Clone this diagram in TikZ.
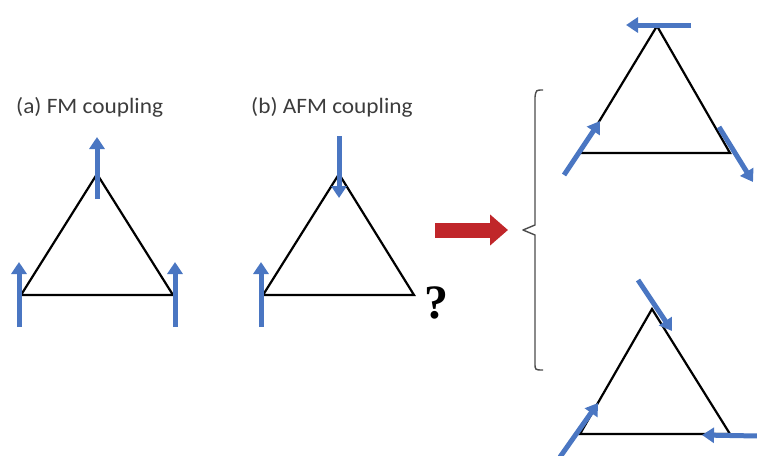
\documentclass[tikz,border=0pt]{standalone}
\usepackage{fontspec}
\setmainfont{Liberation Serif}
\newfontfamily\calib{Carlito}
\usetikzlibrary{arrows.meta}
\definecolor{spinblue}{HTML}{4A76C2}
\definecolor{arrred}{HTML}{C0262A}
\definecolor{labgray}{HTML}{3C3C3C}
\tikzset{
  tri/.style={draw=black, line width=2.2pt, line join=miter},
  spin/.style={draw=spinblue, line width=5pt, -{Triangle[length=12pt,width=15pt]}},
  lab/.style={font=\calib\fontsize{22}{26}\selectfont, text=labgray, inner sep=0pt, anchor=base west, xscale=1.06},
  bracket/.style={draw=black!70, line width=1.4pt, line join=round}
}
\begin{document}
\begin{tikzpicture}[x=1pt,y=-1pt]
\useasboundingbox (0,0) rectangle (757,455);
% (a) FM
\node[lab] (la) at (16,113) {(a) FM coupling};
\coordinate (a1) at (21,295);
\coordinate (a2) at (173,295);
\coordinate (a3) at (97,174);
\draw[tri] (a1) -- (a2) -- (a3) -- cycle;
\coordinate (a1s) at (19,327); \coordinate (a1e) at (19,262);
\coordinate (a2s) at (175,327); \coordinate (a2e) at (175,262);
\coordinate (a3s) at (97,199); \coordinate (a3e) at (97,137);
\draw[spin] (a1s) -- (a1e);
\draw[spin] (a2s) -- (a2e);
\draw[spin] (a3s) -- (a3e);
% (b) AFM
\node[lab] (lb) at (251,113) {(b) AFM coupling};
\coordinate (b1) at (263,295);
\coordinate (b2) at (414,295);
\coordinate (b3) at (339,174);
\draw[tri] (b1) -- (b2) -- (b3) -- cycle;
\coordinate (b1s) at (261,327); \coordinate (b1e) at (261,262);
\coordinate (b3s) at (339,136); \coordinate (b3e) at (339,198);
\draw[spin] (b1s) -- (b1e);
\draw[spin] (b3s) -- (b3e);
\node[font=\bfseries\fontsize{48}{52}\selectfont, inner sep=0pt] (q) at (436,303) {?};
% red arrow
\coordinate (rs) at (435,230); \coordinate (re) at (508,230);
\draw[draw=arrred, line width=15pt, -{Triangle[length=18pt,width=30pt]}] (rs) -- (re);
% bracket
\coordinate (k0) at (543,90);
\coordinate (k1) at (535,97);
\coordinate (k2) at (535,225);
\coordinate (k3) at (523,230);
\coordinate (k4) at (535,235);
\coordinate (k5) at (535,363);
\coordinate (k6) at (543,370);
\draw[bracket] (k0) .. controls (536,90) .. (k1) -- (k2) -- (k3) -- (k4) -- (k5) .. controls (535,370) .. (k6);
% top right triangle
\coordinate (c1) at (580,153);
\coordinate (c2) at (730,153);
\coordinate (c3) at (657,26);
\draw[tri] (c1) -- (c2) -- (c3) -- cycle;
\coordinate (c3s) at (691,25); \coordinate (c3e) at (626,25);
\coordinate (c1s) at (564,175); \coordinate (c1e) at (600,121);
\coordinate (c2s) at (719,127); \coordinate (c2e) at (753,182);
\draw[spin] (c3s) -- (c3e);
\draw[spin] (c1s) -- (c1e);
\draw[spin] (c2s) -- (c2e);
% bottom right triangle
\coordinate (d1) at (580,434);
\coordinate (d2) at (730,434);
\coordinate (d3) at (652,309);
\draw[tri] (d1) -- (d2) -- (d3) -- cycle;
\coordinate (d3s) at (638,280); \coordinate (d3e) at (672,331);
\coordinate (d1s) at (560,457); \coordinate (d1e) at (598,403);
\coordinate (d2s) at (758,436); \coordinate (d2e) at (702,435);
\draw[spin] (d3s) -- (d3e);
\draw[spin] (d1s) -- (d1e);
\draw[spin] (d2s) -- (d2e);
\end{tikzpicture}
\end{document}
